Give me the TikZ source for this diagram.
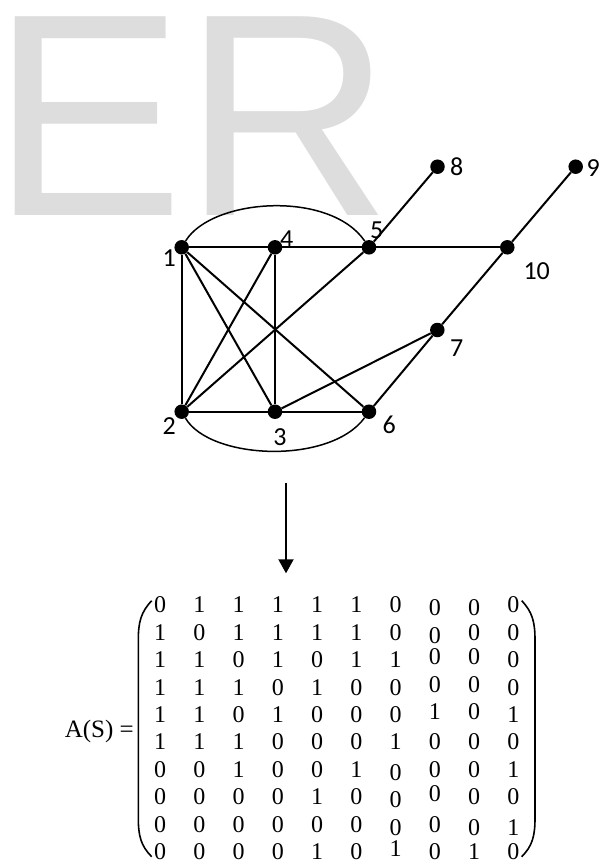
\documentclass[tikz,border=0pt]{standalone}
\usepackage{fontspec}
\newfontfamily\wmfont{Liberation Sans}
\newfontfamily\lblfont{Carlito}
\newfontfamily\matfont{Liberation Serif}
\usetikzlibrary{positioning}
\usetikzlibrary{arrows.meta}
\usetikzlibrary{matrix}
\definecolor{wmgray}{RGB}{221,221,221}

\begin{document}
\begin{tikzpicture}[x=1pt, y=-1pt,
		wm/.style={font=\wmfont\fontsize{289}{289}\selectfont, text=wmgray, inner sep=0pt},
		vtx/.style={circle, fill=black, inner sep=0pt, minimum size=14.5pt},
		lbl/.style={font=\lblfont\fontsize{26}{26}\selectfont, inner sep=0pt},
		edge/.style={line width=2pt},
		arcedge/.style={line width=1.5pt},
		paren/.style={line width=1.6pt},
		entry/.style={font=\matfont\fontsize{24}{24}\selectfont, anchor=center, inner sep=0pt},
		lo/.style={yshift=-3pt},
		hi/.style={yshift=3pt}
	]
	
	\useasboundingbox (0,0) rectangle (602,865);
	
	% watermark
	\node[wm, anchor=base west] (wmark) at (-9,215) {ER};
	
	%vertices
	\node[vtx] (n1) at (181.7,247.3) {};
	\node[vtx] (n2) at (181.7,411.7) {};
	\node[vtx] (n3) at (275,411.7) {};
	\node[vtx] (n4) at (275,247.3) {};
	\node[vtx] (n5) at (369,247.3) {};
	\node[vtx] (n6) at (369,411.7) {};
	\node[vtx] (n7) at (437.3,330) {};
	\node[vtx] (n8) at (437.5,166.7) {};
	\node[vtx] (n9) at (575.7,166.7) {};
	\node[vtx] (n10) at (507.3,247.3) {};
	
	%labels
	\node[lbl] (l1) at (169.3,258.3) {1};
	\node[lbl] (l2) at (169.3,426.5) {2};
	\node[lbl] (l3) at (280,436.7) {3};
	\node[lbl] (l4) at (286.7,239) {4};
	\node[lbl] (l5) at (376.7,230) {5};
	\node[lbl] (l6) at (389.3,425) {6};
	\node[lbl] (l7) at (456.7,348.3) {7};
	\node[lbl] (l8) at (456.7,166.7) {8};
	\node[lbl] (l9) at (593.3,168.3) {9};
	\node[lbl] (l10) at (536.7,271) {10};
	
	%edges
	\draw[edge] (n1) -- (n4);
	\draw[edge] (n4) -- (n5);
	\draw[edge] (n5) -- (n10);
	\draw[edge] (n1) -- (n2);
	\draw[edge] (n2) -- (n3);
	\draw[edge] (n3) -- (n6);
	\draw[edge] (n1) -- (n3);
	\draw[edge] (n1) -- (n6);
	\draw[edge] (n2) -- (n4);
	\draw[edge] (n2) -- (n5);
	\draw[edge] (n4) -- (n3);
	\draw[edge] (n3) -- (n7);
	\draw[edge] (n6) -- (n7);
	\draw[edge] (n7) -- (n10);
	\draw[edge] (n10) -- (n9);
	\draw[edge] (n5) -- (n8);
	
	% curved edges
	\draw[arcedge] (n1) .. controls (212,198) and (330,190) .. (n5);
	\draw[arcedge] (n2) .. controls (210,460) and (330,465) .. (n6);
	
	% arrow
	\coordinate (arrowtop) at (286,482.7);
	\coordinate (arrowtip) at (286,573.3);
	\draw[-{Triangle[width=15pt,length=14pt]}, line width=2pt] (arrowtop) -- (arrowtip);
	
	% adjacency matrix
	\node[font=\matfont\fontsize{25}{25}\selectfont, inner sep=0pt, anchor=base east] (lhs) at (134,737) {A(S) =};
	\matrix (adj) [matrix of nodes, nodes={entry}, inner sep=0pt,
		column sep={39.26pt,between origins}, row sep={27.4pt,between origins}] at (336.7,728.3) {
		0 & 1 & 1 & 1 & 1 & 1 & 0 & |[lo]|0 & |[lo]|0 & 0 \\
		1 & 0 & 1 & 1 & 1 & 1 & 0 & |[lo]|0 & 0 & 0 \\
		1 & 1 & 0 & 1 & 0 & 1 & 1 & |[hi]|0 & |[hi]|0 & 0 \\
		1 & 1 & 1 & 0 & 1 & 0 & 0 & |[hi]|0 & |[hi]|0 & 0 \\
		1 & 1 & 0 & 1 & 0 & 0 & 0 & |[hi]|1 & |[hi]|0 & 1 \\
		1 & 1 & 1 & 0 & 0 & 0 & 1 & 0 & 0 & 0 \\
		0 & 0 & 1 & 0 & 0 & 1 & |[lo]|0 & 0 & 0 & 1 \\
		0 & 0 & 0 & 0 & 1 & 0 & |[lo]|0 & |[hi]|0 & 0 & 0 \\
		0 & 0 & 0 & 0 & 0 & 0 & |[lo]|0 & 0 & |[lo]|0 & |[lo]|1 \\
		0 & 0 & 0 & 0 & 1 & 0 & |[hi]|1 & 0 & 1 & 0 \\
	};
	
	% brackets
	\draw[paren] (151.7,600.7) .. controls (141,612) and (138.3,622) .. (138.3,640) -- (138.3,818) .. controls (138.3,836) and (141,846) .. (151.7,856.7);
	\draw[paren] (521.7,600.7) .. controls (532.4,612) and (535,622) .. (535,640) -- (535,818) .. controls (535,836) and (532.4,846) .. (521.7,856.7);
\end{tikzpicture}
\end{document}
